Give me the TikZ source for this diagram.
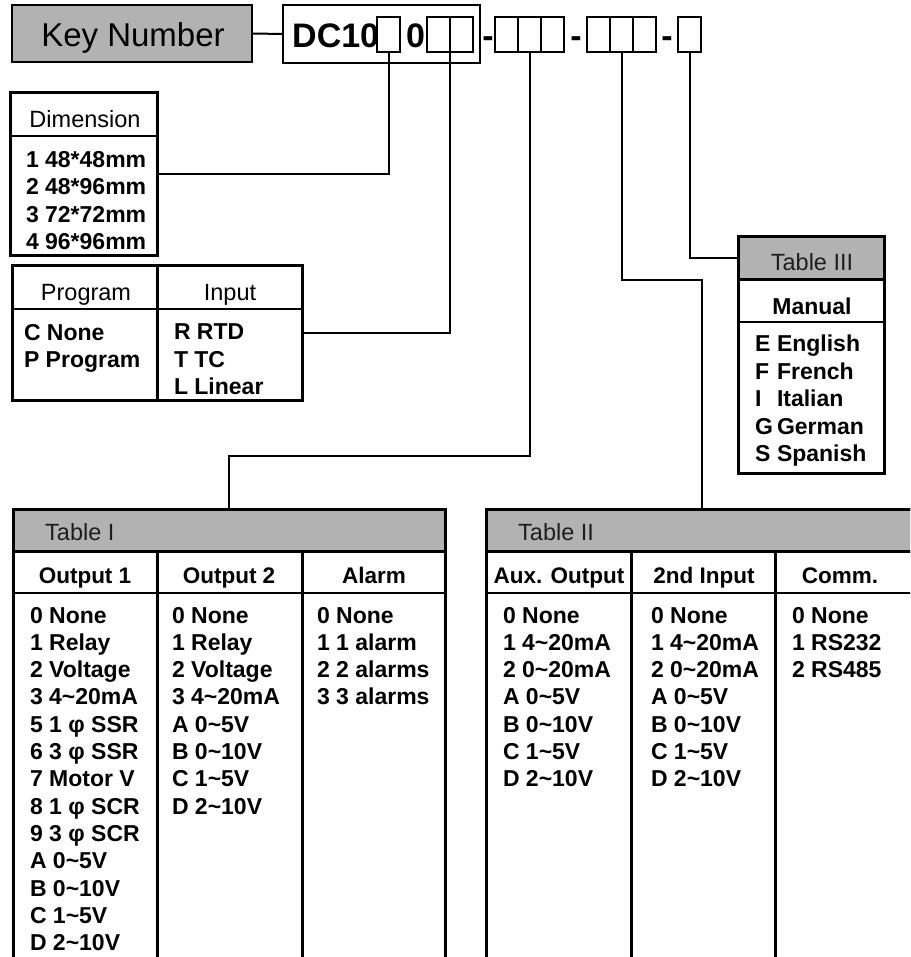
\documentclass[tikz,border=0pt]{standalone}
\usepackage{fontspec}
\setmainfont{Liberation Sans}
\newcommand\mytilde{\textasciitilde}
\newcommand\lt[1]{\makebox[22pt][l]{#1}}
\definecolor{hdrgray}{RGB}{178,178,178}
\definecolor{labgray}{RGB}{30,30,30}
\tikzset{
  box/.style={draw, line width=3pt, inner sep=0pt, outer sep=0pt, anchor=north west},
  gbox/.style={box, fill=hdrgray},
  sbox/.style={box, line width=2.6pt, minimum width=23pt, minimum height=35pt},
  conn/.style={line width=2pt},
  thin/.style={line width=2pt},
  thk/.style={line width=3pt},
  ent/.style={anchor=north west, inner sep=0pt, outer sep=0pt, align=left, font=\fontsize{23}{27.3}\selectfont\bfseries},
  ent3/.style={ent, font=\fontsize{23}{27.5}\selectfont\bfseries},
  hdr/.style={anchor=base, inner sep=0pt, font=\fontsize{22.5}{26}\selectfont\bfseries},
  rhdr/.style={anchor=base, inner sep=0pt, font=\fontsize{23.5}{26}\selectfont},
  tlab/.style={anchor=base west, inner sep=0pt, text=labgray, font=\fontsize{23.5}{26}\selectfont},
  kfont/.style={inner sep=0pt, font=\fontsize{33}{36}\selectfont},
  dcfont/.style={inner sep=0pt, font=\fontsize{34}{36}\selectfont\bfseries}
}
\begin{document}
\begin{tikzpicture}[x=1pt,y=-1pt]
\useasboundingbox (0,0) rectangle (910,957);
\clip (0,0) rectangle (910,957);

% ---------- top row ----------
\node[gbox, line width=2.4pt, minimum width=240pt, minimum height=57pt] (key) at (12,5) {};
\node[kfont, anchor=base] (keyt) at (133,47) {Key Number};
\node[box, line width=2.4pt, minimum width=197pt, minimum height=58pt] (dc) at (283,5) {};
\node[dcfont, anchor=base west] (dct) at (292,48) {DC10};
\node[dcfont, anchor=base] (zero) at (415.5,48) {0};
\node[sbox] (b1) at (377,17) {};
\node[sbox] (b2) at (427,17) {};
\node[sbox] (b3) at (450,17) {};
\node[dcfont, anchor=base] (h1) at (488,48) {-};
\node[sbox] (g21) at (495,17) {};
\node[sbox] (g22) at (518,17) {};
\node[sbox] (g23) at (541,17) {};
\node[dcfont, anchor=base] (h2) at (576,48) {-};
\node[sbox] (g31) at (587,17) {};
\node[sbox] (g32) at (610,17) {};
\node[sbox] (g33) at (633,17) {};
\node[dcfont, anchor=base] (h3) at (667,48) {-};
\node[sbox] (b4) at (678,17) {};

% ---------- Dimension ----------
\node[box, minimum width=147pt, minimum height=163pt] (dim) at (10,93) {};
\draw[thin] (10,136) -- (157,136);
\node[rhdr] (dimh) at (85,128) {Dimension};
\node[ent3] (dime) at (26,151) {1 48*48mm\\2 48*96mm\\3 72*72mm\\4 96*96mm};

% ---------- Program / Input ----------
\node[box, minimum width=290pt, minimum height=134pt] (prog) at (12,266) {};
\draw[thin] (12,309) -- (302,309);
\draw[thk] (157,266) -- (157,400);
\node[rhdr] (progh) at (86,300) {Program};
\node[rhdr] (inph) at (230,300) {Input};
\node[ent3] (proge) at (24,324) {C None\\P Program};
\node[ent3] (inpe) at (174,324) {R RTD\\T TC\\L Linear};

% ---------- Table III ----------
\node[box, minimum width=146pt, minimum height=236pt] (t3) at (738,237) {};
\node[gbox, minimum width=146pt, minimum height=43pt] (t3h) at (738,237) {};
\draw[thin] (738,322) -- (884,322);
\node[rhdr, text=labgray] (t3lab) at (812,271) {Table III};
\node[hdr, font=\fontsize{23}{26}\selectfont\bfseries] (manh) at (812,314) {Manual};
\node[ent3] (t3e) at (755,335) {\lt{E}English\\\lt{F}French\\\lt{I}Italian\\\lt{G}German\\\lt{S}Spanish};

% ---------- Table I ----------
\node[box, minimum width=432pt, minimum height=470pt] (t1) at (13,509) {};
\node[gbox, minimum width=432pt, minimum height=42pt] (t1h) at (13,509) {};
\draw[thin] (13,593) -- (445,593);
\draw[thk] (157,551) -- (157,990);
\draw[thk] (302,551) -- (302,990);
\node[tlab] (t1lab) at (45,540) {Table I};
\node[hdr] (o1h) at (85,583) {Output 1};
\node[hdr] (o2h) at (229,583) {Output 2};
\node[hdr] (alh) at (374,583) {Alarm};
\node[ent] (o1e) at (30,607) {0 None\\1 Relay\\2 Voltage\\3 4\mytilde20mA\\5 1 φ SSR\\6 3 φ SSR\\7 Motor V\\8 1 φ SCR\\9 3 φ SCR\\A 0\mytilde5V\\B 0\mytilde10V\\C 1\mytilde5V\\D 2\mytilde10V};
\node[ent] (o2e) at (172,607) {0 None\\1 Relay\\2 Voltage\\3 4\mytilde20mA\\A 0\mytilde5V\\B 0\mytilde10V\\C 1\mytilde5V\\D 2\mytilde10V};
\node[ent] (ale) at (317,607) {0 None\\1 1 alarm\\2 2 alarms\\3 3 alarms};

% ---------- Table II ----------
\node[box, minimum width=432pt, minimum height=470pt] (t2) at (486,509) {};
\node[gbox, minimum width=432pt, minimum height=42pt] (t2h) at (486,509) {};
\draw[thin] (486,593) -- (918,593);
\draw[thk] (631,551) -- (631,990);
\draw[thk] (775,551) -- (775,990);
\node[tlab] (t2lab) at (518,540) {Table II};
\node[hdr] (auxh) at (559,583) {Aux. Output};
\node[hdr] (in2h) at (704,583) {2nd Input};
\node[hdr] (comh) at (840,583) {Comm.};
\node[ent] (auxe) at (503,607) {0 None\\1 4\mytilde20mA\\2 0\mytilde20mA\\A 0\mytilde5V\\B 0\mytilde10V\\C 1\mytilde5V\\D 2\mytilde10V};
\node[ent] (in2e) at (651,607) {0 None\\1 4\mytilde20mA\\2 0\mytilde20mA\\A 0\mytilde5V\\B 0\mytilde10V\\C 1\mytilde5V\\D 2\mytilde10V};
\node[ent] (come) at (792,607) {0 None\\1 RS232\\2 RS485};

% ---------- connectors ----------
\coordinate (k1) at (0,456);
\coordinate (k2) at (0,280);
\draw[conn] (key.east) -- (dc.west);
\draw[conn] (b1.south) |- (dim.east);
\draw[conn] (b2.south east) |- (prog.east);
\draw[conn] (g22.south) -- (g22.south |- k1) -| (t1.north);
\draw[conn] (g32.south) -- (g32.south |- k2) -| (t2.north);
\draw[conn] (b4.south) |- (t3h.west);
\end{tikzpicture}
\end{document}
